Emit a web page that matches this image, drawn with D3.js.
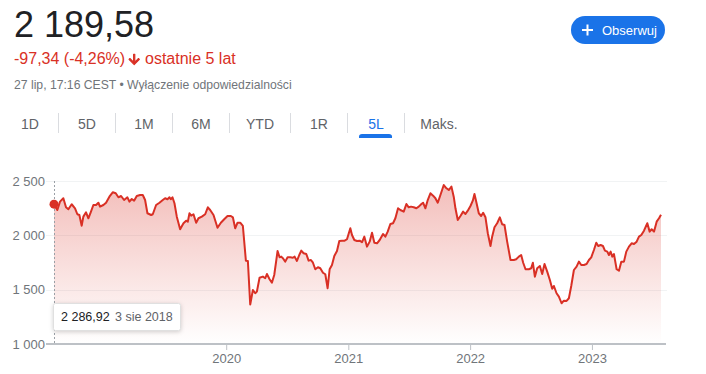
<!DOCTYPE html>
<html><head><meta charset="utf-8">
<script src="https://cdn.jsdelivr.net/npm/d3@7"></script>
<style>
html,body{margin:0;padding:0;background:#fff;}
svg{display:block;font-family:"Liberation Sans",Arial,sans-serif;}
</style></head>
<body>
<svg id="c" width="706" height="374"></svg>
<script>
const dates = ["2018-08-03","2018-08-13","2018-08-21","2018-08-31","2018-09-08","2018-09-15","2018-09-25","2018-10-05","2018-10-12","2018-10-18","2018-10-25","2018-10-30","2018-11-07","2018-11-14","2018-11-21","2018-11-29","2018-12-07","2018-12-14","2018-12-19","2018-12-29",
"2019-01-06","2019-01-16","2019-01-26","2019-02-04","2019-02-12","2019-02-20","2019-03-01","2019-03-11","2019-03-17","2019-03-24","2019-03-31","2019-04-08","2019-04-18","2019-04-26","2019-05-03","2019-05-10","2019-05-21","2019-05-26","2019-06-05","2019-06-15","2019-06-25","2019-07-02","2019-07-09","2019-07-15","2019-07-19","2019-07-24","2019-07-30","2019-08-06","2019-08-16","2019-08-26","2019-09-03","2019-09-08","2019-09-13","2019-09-18","2019-09-25","2019-10-03","2019-10-10","2019-10-20","2019-10-30","2019-11-07","2019-11-14","2019-11-24","2019-12-06","2019-12-16","2019-12-26",
"2020-01-05","2020-01-15","2020-01-21","2020-01-28","2020-02-04","2020-02-12","2020-02-20","2020-02-29","2020-03-06","2020-03-13","2020-03-21","2020-03-28","2020-04-02","2020-04-10","2020-04-20","2020-04-27","2020-05-02","2020-05-10","2020-05-17","2020-05-24","2020-06-03","2020-06-09","2020-06-14","2020-06-19","2020-06-26","2020-07-03","2020-07-11","2020-07-19","2020-07-24","2020-07-31","2020-08-07","2020-08-13","2020-08-20","2020-08-28","2020-09-04","2020-09-11","2020-09-17","2020-09-24","2020-10-02","2020-10-09","2020-10-17","2020-10-24","2020-10-31","2020-11-06","2020-11-13","2020-11-20","2020-11-28","2020-12-05","2020-12-13","2020-12-21","2020-12-28",
"2021-01-07","2021-01-12","2021-01-19","2021-01-27","2021-02-04","2021-02-11","2021-02-18","2021-02-26","2021-03-06","2021-03-13","2021-03-20","2021-03-28","2021-04-05","2021-04-15","2021-04-22","2021-04-29","2021-05-07","2021-05-15","2021-05-22","2021-05-30","2021-06-06","2021-06-16","2021-06-24","2021-07-01","2021-07-08","2021-07-16","2021-07-24","2021-07-31","2021-08-08","2021-08-13","2021-08-20","2021-08-27","2021-09-04","2021-09-12","2021-09-19","2021-09-26","2021-10-04","2021-10-14","2021-10-22","2021-10-29","2021-11-06","2021-11-13","2021-11-18","2021-11-25","2021-12-03","2021-12-11","2021-12-18","2021-12-25",
"2022-01-02","2022-01-09","2022-01-14","2022-01-20","2022-01-27","2022-02-03","2022-02-09","2022-02-16","2022-02-23","2022-03-03","2022-03-08","2022-03-15","2022-03-23","2022-03-31","2022-04-07","2022-04-14","2022-04-22","2022-05-02","2022-05-12","2022-05-19","2022-05-27","2022-06-03","2022-06-09","2022-06-16","2022-06-26","2022-07-03","2022-07-08","2022-07-14","2022-07-21","2022-07-29","2022-08-05","2022-08-12","2022-08-20","2022-08-28","2022-09-04","2022-09-09","2022-09-17","2022-09-24","2022-10-02","2022-10-09","2022-10-17","2022-10-24","2022-10-31","2022-11-08","2022-11-16","2022-11-23","2022-11-30","2022-12-08","2022-12-16","2022-12-23","2022-12-30",
"2023-01-07","2023-01-14","2023-01-20","2023-01-27","2023-02-03","2023-02-09","2023-02-16","2023-02-21","2023-02-26","2023-03-03","2023-03-08","2023-03-16","2023-03-23","2023-03-30","2023-04-07","2023-04-14","2023-04-22","2023-04-30","2023-05-07","2023-05-15","2023-05-22","2023-05-29","2023-06-06","2023-06-16","2023-06-23","2023-06-29","2023-07-06","2023-07-14","2023-07-21","2023-07-27"];
const values = [2286.92,2233,2310,2341,2258,2240,2286,2249,2194,2187,2089,2172,2212,2157,2212,2279,2279,2300,2264,2279,
2300,2356,2396,2387,2350,2362,2325,2350,2310,2334,2319,2362,2371,2371,2325,2203,2187,2194,2279,2300,2325,2341,2332,2350,2332,2350,2295,2172,2056,2111,2135,2126,2203,2181,2194,2116,2157,2172,2194,2258,2233,2187,2070,2116,2148,
2178,2178,2166,2065,2116,2116,2086,1767,1764,1364,1497,1467,1482,1610,1620,1605,1644,1596,1564,1635,1856,1798,1804,1789,1758,1798,1798,1794,1804,1764,1819,1859,1835,1828,1767,1773,1748,1688,1706,1697,1656,1642,1513,1688,1727,1810,1856,1948,1951,1951,1964,
2065,2003,1957,1948,1951,1936,1988,1896,1942,2024,1932,1927,1957,2012,1988,2034,2104,2111,2157,2249,2233,2218,2288,2258,2264,2258,2249,2264,2288,2300,2249,2325,2387,2365,2341,2300,2371,2463,2433,2417,2448,2353,2249,2141,2178,2218,2196,2227,
2270,2319,2380,2300,2203,2178,2208,2166,2019,1902,1988,2074,2111,2166,2102,2095,1942,1773,1773,1780,1804,1819,1748,1688,1688,1697,1748,1620,1697,1718,1644,1736,1666,1589,1508,1534,1467,1436,1375,1399,1396,1421,1534,1681,1712,1758,1727,1727,1736,1773,1798,
1865,1932,1902,1911,1902,1859,1850,1819,1850,1804,1828,1688,1675,1758,1758,1850,1896,1927,1920,1942,1988,2003,2043,2111,2034,2056,2034,2126,2157,2189.58];
const yTicks = [1000,1500,2000,2500];
const xTickYears = ["2020","2021","2022","2023"];
const tabs = ["1D","5D","1M","6M","YTD","1R","5L","Maks."];
const activeTab = "5L";

const loc = d3.formatLocale({decimal:",",thousands:"\u00a0",grouping:[3],currency:["","zł"]});
const fmtInt = loc.format(",d");

const parse = d3.timeParse("%Y-%m-%d");
const data = dates.map((d,i)=>({date:parse(d),value:values[i]}));

const svg = d3.select("#c");
const red = "#d93025";

// header
svg.append("text").attr("x",14).attr("y",37).attr("font-size",36).attr("fill","#202124").text("2 189,58");
svg.append("text").attr("x",14).attr("y",64).attr("font-size",16).attr("fill",red).text("-97,34 (-4,26%)");
svg.append("path").attr("d","M20 12l-1.41-1.41L13 16.17V4h-2v12.17l-5.58-5.59L4 12l8 8 8-8z")
  .attr("transform","translate(126.4,51.6) scale(0.65)").attr("fill",red).attr("stroke",red).attr("stroke-width",1.6).attr("stroke-linejoin","round");
svg.append("text").attr("x",145).attr("y",64).attr("font-size",16).attr("fill",red).text("ostatnie 5 lat");
svg.append("text").attr("x",14).attr("y",89).attr("font-size",12.2).attr("fill","#70757a")
  .text("27 lip, 17:16 CEST \u2022 Wyłączenie odpowiedzialności");

// follow button
svg.append("rect").attr("x",571).attr("y",16).attr("width",94).attr("height",28).attr("rx",14).attr("fill","#1a73e8");
svg.append("path").attr("d","M582,30 H593 M587.5,24.5 V35.5").attr("stroke","#fff").attr("stroke-width",2);
svg.append("text").attr("x",602).attr("y",30).attr("dy","0.35em").attr("font-size",13).attr("fill","#fff").text("Obserwuj");

// tabs
const tabCenters = [30,87,144,201,260,319,376,439];
const seps = [58,115,172,229,290,347,404];
tabs.forEach((t,i)=>{
  svg.append("text").attr("x",tabCenters[i]).attr("y",124).attr("dy","0.35em").attr("text-anchor","middle")
    .attr("font-size",14).attr("fill",t===activeTab?"#1a73e8":"#5f6368").text(t);
});
seps.forEach(s=>svg.append("line").attr("x1",s+0.5).attr("x2",s+0.5).attr("y1",113).attr("y2",133).attr("stroke","#dadce0"));
svg.append("path").attr("d","M359,138 L359,136.5 Q359,134 362,134 L389,134 Q392,134 392,136.5 L392,138 Z").attr("fill","#1a73e8");

// chart
const x = d3.scaleTime().domain(d3.extent(data,d=>d.date)).range([54,661]);
const y = d3.scaleLinear().domain([1000,2500]).range([344,181]);

const defs = svg.append("defs");
const g = defs.append("linearGradient").attr("id","ag").attr("gradientUnits","userSpaceOnUse")
  .attr("x1",0).attr("x2",0).attr("y1",y(2500)).attr("y2",y(1000));
g.append("stop").attr("offset",0).attr("stop-color",red).attr("stop-opacity",0.32);
g.append("stop").attr("offset",1).attr("stop-color",red).attr("stop-opacity",0.0);

// gridlines
yTicks.filter(v=>v>1000).forEach(v=>{
  svg.append("line").attr("x1",46).attr("x2",667).attr("y1",Math.round(y(v))+0.5).attr("y2",Math.round(y(v))+0.5)
    .attr("stroke","#f1f3f4").attr("stroke-width",1);
});

const area = d3.area().x(d=>x(d.date)).y0(y(1000)).y1(d=>y(d.value));
svg.append("path").datum(data).attr("d",area).attr("fill","url(#ag)");

// y axis
const ya = svg.append("g").attr("transform","translate(47,0)")
  .call(d3.axisLeft(y).tickValues(yTicks).tickFormat(fmtInt).tickSize(0).tickPadding(2));
ya.select(".domain").remove();
ya.selectAll("text").attr("font-size",13).attr("fill","#70757a").attr("font-family","'Liberation Sans',Arial,sans-serif");

// x axis
const xa = svg.append("g").attr("transform",`translate(0,${y(1000)})`)
  .call(d3.axisBottom(x).tickValues(xTickYears.map(s=>d3.timeParse("%Y")(s))).tickFormat(d3.timeFormat("%Y")).tickSize(6).tickSizeOuter(0).tickPadding(4));
xa.select(".domain").remove();
xa.selectAll(".tick line").attr("stroke","#bdc1c6");
xa.selectAll("text").attr("font-size",13).attr("fill","#70757a").attr("font-family","'Liberation Sans',Arial,sans-serif");
svg.append("line").attr("x1",46).attr("x2",666).attr("y1",y(1000)).attr("y2",y(1000)).attr("stroke","#bdc1c6").attr("stroke-width",2);

// line
svg.append("path").datum(data).attr("d",d3.line().x(d=>x(d.date)).y(d=>y(d.value)))
  .attr("fill","none").attr("stroke",red).attr("stroke-width",2).attr("stroke-linejoin","round");

// hover marker
const d0 = data[0];
svg.append("line").attr("x1",x(d0.date)+0.5).attr("x2",x(d0.date)+0.5).attr("y1",y(2500)).attr("y2",y(1000))
  .attr("stroke","#9aa0a6").attr("stroke-dasharray","2,2").attr("stroke-width",1);
svg.append("circle").attr("cx",x(d0.date)).attr("cy",y(d0.value)).attr("r",4.5).attr("fill",red);

// tooltip
const tt = svg.append("g");
tt.append("rect").attr("x",53.5).attr("y",303.5).attr("width",127).attr("height",27).attr("rx",2)
  .attr("fill","#fff").attr("stroke","#e0e0e0").style("filter","drop-shadow(0 1px 2px rgba(0,0,0,0.18))");
tt.append("text").attr("x",61).attr("y",317).attr("dy","0.35em").attr("font-size",12.5).attr("fill","#202124")
  .text(loc.format(",.2f")(d0.value));
tt.append("text").attr("x",115).attr("y",317).attr("dy","0.35em").attr("font-size",12.5).attr("fill","#5f6368")
  .text("3 sie 2018");
</script>
</body></html>
